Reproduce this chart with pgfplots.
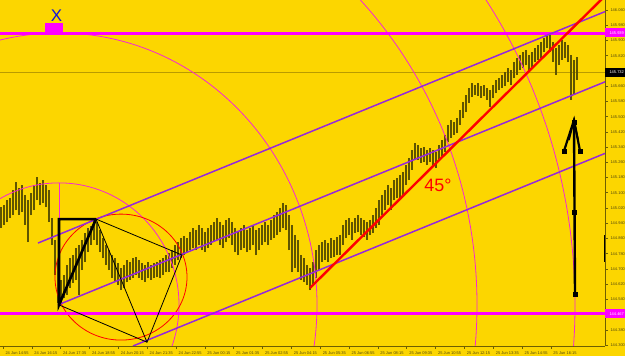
\documentclass[border=0pt]{standalone}
\usepackage{pgfplots}
\usepackage{pgfplotstable}
\usepackage{fontspec}
\setmainfont{Liberation Sans}
\pgfplotsset{compat=1.18}
\definecolor{bg}{RGB}{252,214,0}
\definecolor{barc}{RGB}{95,84,0}
\definecolor{axc}{RGB}{110,95,0}
\definecolor{lblc}{RGB}{80,70,15}
\definecolor{chan}{RGB}{150,40,220}
\definecolor{mag}{RGB}{255,0,255}
\definecolor{arcc}{RGB}{245,40,210}
\definecolor{curc}{RGB}{185,155,0}
\definecolor{xblue}{RGB}{20,20,220}

\pgfplotstableread{
x lo hi
1 144.915 145.025
4 144.931 145.036
7 144.946 145.062
10 144.967 145.073
13 144.983 145.115
16 145.009 145.156
19 144.983 145.125
22 144.998 145.141
25 144.931 145.089
28 144.841 145.062
31 144.983 145.099
34 145.009 145.141
37 145.062 145.183
40 145.036 145.151
43 145.046 145.167
46 145.025 145.141
49 144.946 145.115
52 144.826 144.967
55 144.668 144.852
58 144.521 144.747
61 144.511 144.642
64 144.547 144.668
67 144.563 144.721
70 144.600 144.757
73 144.626 144.773
76 144.642 144.810
79 144.563 144.826
82 144.694 144.852
85 144.736 144.888
88 144.788 144.915
91 144.826 144.925
94 144.852 144.957
97 144.826 144.946
100 144.788 144.904
103 144.757 144.862
106 144.721 144.826
109 144.694 144.799
112 144.652 144.773
115 144.631 144.757
118 144.616 144.731
121 144.589 144.705
124 144.600 144.721
127 144.631 144.747
130 144.642 144.736
133 144.652 144.757
136 144.668 144.762
139 144.652 144.747
142 144.642 144.731
145 144.631 144.721
148 144.652 144.736
151 144.642 144.721
154 144.652 144.731
157 144.657 144.736
160 144.652 144.747
163 144.668 144.757
166 144.683 144.773
169 144.683 144.783
172 144.705 144.799
175 144.721 144.826
178 144.747 144.841
181 144.757 144.862
184 144.773 144.872
187 144.788 144.862
190 144.799 144.893
193 144.810 144.915
196 144.799 144.904
199 144.826 144.931
202 144.799 144.915
205 144.788 144.893
208 144.810 144.915
211 144.826 144.931
214 144.841 144.946
217 144.852 144.967
220 144.826 144.946
223 144.810 144.931
226 144.841 144.957
229 144.862 144.967
232 144.826 144.946
235 144.788 144.915
238 144.773 144.893
241 144.799 144.915
244 144.810 144.931
247 144.788 144.904
250 144.799 144.915
253 144.826 144.931
256 144.773 144.904
259 144.799 144.915
262 144.826 144.931
265 144.841 144.946
268 144.826 144.931
271 144.852 144.957
274 144.862 144.983
277 144.878 144.998
280 144.893 145.020
283 144.915 145.046
286 144.904 145.036
289 144.799 144.983
292 144.683 144.931
295 144.705 144.878
298 144.683 144.852
301 144.642 144.773
304 144.631 144.757
307 144.616 144.721
310 144.589 144.705
313 144.616 144.736
316 144.652 144.799
319 144.694 144.826
322 144.736 144.841
325 144.747 144.852
328 144.736 144.836
331 144.757 144.862
334 144.762 144.852
337 144.773 144.867
340 144.773 144.878
343 144.826 144.931
346 144.862 144.957
349 144.878 144.967
352 144.852 144.946
355 144.888 144.967
358 144.893 144.983
361 144.878 144.967
364 144.867 144.957
367 144.852 144.946
370 144.878 144.957
373 144.888 144.983
376 144.915 145.020
379 144.931 145.062
382 144.983 145.089
385 145.009 145.115
388 145.036 145.141
391 145.009 145.125
394 145.062 145.167
397 145.073 145.178
400 145.062 145.194
403 145.089 145.209
406 145.141 145.246
409 145.167 145.283
412 145.220 145.325
415 145.272 145.361
418 145.272 145.351
421 145.256 145.335
424 145.261 145.340
427 145.246 145.325
430 145.261 145.335
433 145.235 145.325
436 145.230 145.314
439 145.272 145.351
442 145.288 145.377
445 145.314 145.404
448 145.366 145.456
451 145.388 145.482
454 145.404 145.471
457 145.414 145.493
460 145.456 145.535
463 145.493 145.577
466 145.524 145.614
469 145.572 145.651
472 145.603 145.677
475 145.614 145.667
478 145.608 145.677
481 145.598 145.661
484 145.608 145.667
487 145.588 145.651
490 145.551 145.640
493 145.598 145.667
496 145.624 145.693
499 145.640 145.703
502 145.651 145.719
505 145.661 145.734
508 145.682 145.756
511 145.667 145.745
514 145.703 145.787
517 145.719 145.808
520 145.745 145.824
523 145.756 145.839
526 145.771 145.850
529 145.734 145.824
532 145.756 145.839
535 145.787 145.861
538 145.798 145.877
541 145.808 145.892
544 145.839 145.913
547 145.861 145.939
550 145.839 145.929
553 145.787 145.892
556 145.719 145.861
559 145.771 145.877
562 145.798 145.903
565 145.808 145.892
568 145.787 145.877
571 145.588 145.824
574 145.614 145.798
577 145.693 145.813
}\bars

\begin{document}
\begin{tikzpicture}
\useasboundingbox (0bp,0bp) rectangle (625bp,356bp);
\fill[bg] (0bp,0bp) rectangle (625bp,356bp);
\begin{axis}[
  at={(0bp,356bp)}, anchor=north west,
  scale only axis, width=605bp, height=346bp,
  xmin=0, xmax=605, ymin=144.295, ymax=146.113,
  axis x line*=bottom, axis y line*=right,
  axis line style={-, axc, line width=0.8bp},
  tick align=outside, major tick length=3bp,
  tick style={axc, line width=0.6bp},
  xtick={3,31.84,60.68,89.52,118.36,147.2,176.04,204.88,233.72,262.56,291.4,320.24,349.08,377.92,406.76,435.6,464.44,493.28,522.12,550.96},
  xticklabels={24 Jun 14:55,24 Jun 16:15,24 Jun 17:35,24 Jun 18:55,24 Jun 20:15,24 Jun 21:35,24 Jun 22:55,25 Jun 00:15,25 Jun 01:35,25 Jun 02:55,25 Jun 04:15,25 Jun 05:35,25 Jun 06:55,25 Jun 08:15,25 Jun 09:35,25 Jun 10:55,25 Jun 12:15,25 Jun 13:35,25 Jun 14:55,25 Jun 16:15},
  ytick={146.06,145.98,145.90,145.82,145.66,145.58,145.50,145.42,145.34,145.26,145.18,145.10,145.02,144.94,144.86,144.78,144.70,144.62,144.54,144.38,144.30},
  yticklabels={146.060,145.980,145.900,145.820,145.660,145.580,145.500,145.420,145.340,145.260,145.180,145.100,145.020,144.940,144.860,144.780,144.700,144.620,144.540,144.380,144.300},
  xticklabel style={font=\fontsize{4}{5}\selectfont, text=lblc, anchor=north west, xshift=-1bp, yshift=1bp},
  yticklabel style={font=\fontsize{4}{5}\selectfont, text=lblc, anchor=west, xshift=-1bp},
]
% current price line
\addplot[curc, line width=1.4bp] coordinates {(0,145.732) (605,145.732)};
% price bars
\addplot[draw=none, mark=none, error bars/.cd, y dir=plus, y explicit, error mark=none,
  error bar style={draw=barc, line width=1.2bp}]
  table[x=x, y=lo, y error plus expr=\thisrow{hi}-\thisrow{lo}] {\bars};
% fibonacci-like arcs
\draw[arcc, line width=0.8bp] (axis cs:59,144.511) ellipse [x radius=120, y radius=0.641];
\draw[arcc, line width=0.8bp] (axis cs:59,144.511) ellipse [x radius=258, y radius=1.429];
\draw[arcc, line width=0.8bp] (axis cs:59,144.511) ellipse [x radius=418, y radius=2.312];
\draw[arcc, line width=0.8bp] (axis cs:59,144.511) ellipse [x radius=516, y radius=2.853];
\addplot[arcc, line width=0.8bp] coordinates {(59,145.151) (59,144.511)};
% red circle
\draw[red, line width=0.8bp] (axis cs:121,144.657) ellipse [x radius=66, y radius=0.331];
% horizontal magenta levels
\addplot[mag, line width=3bp] coordinates {(0,145.939) (605,145.939)};
\addplot[mag, line width=3bp] coordinates {(0,144.467) (605,144.467)};
% channel
\addplot[chan, line width=1.5bp] coordinates {(38,144.836) (605,146.052)};
\addplot[chan, line width=1.5bp] coordinates {(58,144.511) (605,145.683)};
\addplot[chan, line width=1.5bp] coordinates {(133,144.295) (605,145.307)};
% black thin quadrilateral
\addplot[black, line width=0.8bp] coordinates {(59,144.511) (96,144.962) (182,144.773) (147,144.315) (59,144.511)};
\addplot[black, line width=0.8bp] coordinates {(96,144.962) (147,144.315)};
% black thick triangle
\addplot[black, line width=2.6bp, line join=miter] coordinates {(96,144.962) (59,144.962) (59,144.511) (96,144.962)};
% red 45 degree line
\addplot[red, line width=2.4bp] coordinates {(310,144.600) (608,146.150)};
\node[red, font=\fontsize{18}{18}\selectfont] at (axis cs:438,145.141) {45°};
% right black construction
\addplot[black, line width=2.4bp] coordinates {(574,145.482) (575,144.568)};
\addplot[black, line width=2.2bp] coordinates {(564,145.320) (574,145.482) (580,145.320)};
\addplot[black, line width=1.6bp] coordinates {(569,145.377) (574,145.482) (578,145.377)};
\addplot[black, only marks, mark=square*, mark size=2bp] coordinates {(574,145.472) (564,145.320) (580,145.320) (574,144.998) (575,144.568)};
\addplot[black, line width=1.4bp] coordinates {(604.5,144.878) (604.5,144.736)};
% X label
\fill[mag] (axis cs:45,145.992) rectangle (axis cs:63,145.945);
\node[xblue, font=\fontsize{17}{17}\selectfont] at (axis cs:56.5,146.030) {X};
\end{axis}
% price labels on the right scale
\fill[mag] (605bp,318.5bp) rectangle (625bp,327.5bp);
\node[white, font=\fontsize{4}{5}\selectfont, anchor=west] at (606bp,323bp) {145.939};
\fill[black] (605bp,279bp) rectangle (625bp,288bp);
\node[white, font=\fontsize{4}{5}\selectfont, anchor=west] at (606bp,283.5bp) {145.732};
\fill[mag] (605bp,37.5bp) rectangle (625bp,46.5bp);
\node[white, font=\fontsize{4}{5}\selectfont, anchor=west] at (606bp,42bp) {144.467};
\end{tikzpicture}
\end{document}
